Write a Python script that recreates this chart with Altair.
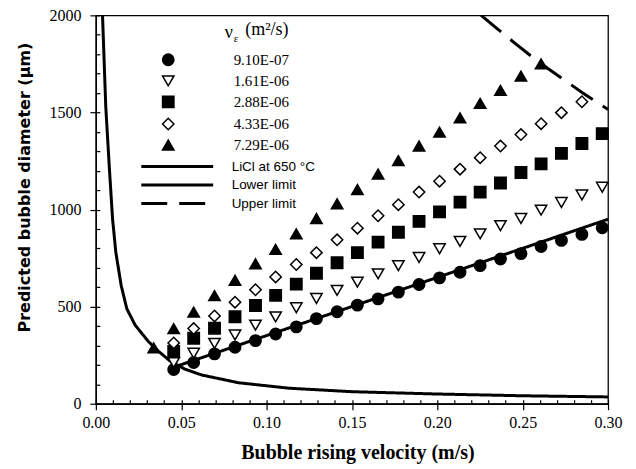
import altair as alt
import pandas as pd

# ---------------- data ----------------
v_pts = [0.0456, 0.0573, 0.0695, 0.0815, 0.0935, 0.1053, 0.1174, 0.1292, 0.1413, 0.1532, 0.1653,
         0.1772, 0.1893, 0.2013, 0.2133, 0.2251, 0.2370, 0.2490, 0.2608, 0.2727, 0.2847, 0.2966]

nu_labels = ["9.10E-07", "1.61E-06", "2.88E-06", "4.33E-06", "7.29E-06"]

d_910 = [176, 212, 257, 291, 325, 359, 396, 438, 474, 508, 540, 575, 614, 648, 677, 711, 745, 773, 810, 841, 872, 906]
d_161 = [212, 260, 311, 354, 405, 447, 494, 542, 584, 626, 669, 711, 753, 798, 836, 875, 917, 954, 997, 1036, 1075, 1115]
d_288 = [269, 337, 389, 448, 506, 558, 616, 672, 726, 778, 832, 883, 939, 988, 1038, 1090, 1137, 1191, 1235, 1289, 1340, 1391]
d_433 = [313, 387, 452, 523, 587, 653, 717, 778, 844, 904, 968, 1025, 1090, 1146, 1208, 1267, 1327, 1386, 1442, 1499, 1555]
d_729 = [387, 472, 557, 636, 721, 795, 875, 954, 1030, 1103, 1183, 1252, 1327, 1399, 1472, 1547, 1614, 1687, 1750]
v_729_extra = [0.0339]
d_729_extra = [288]

line_labels = ["LiCl at 650 \u00b0C", "Lower limit", "Upper limit"]
licl_v = [0.0039, 0.0058, 0.0080, 0.0098, 0.0117, 0.0148, 0.0181, 0.0230, 0.0308, 0.0367, 0.0435,
          0.0522, 0.0620, 0.0836, 0.113, 0.150, 0.200, 0.250, 0.300]
licl_d = [2000, 1530, 1200, 950, 780, 610, 490, 405, 320, 270, 220, 178, 148, 108, 80, 62, 50, 41, 35]
lower_v = [0.0456, 0.300]
lower_d = [188, 950]
upper_v = [0.2257, 0.235, 0.245, 0.255, 0.265, 0.275, 0.285, 0.300]
upper_d = [2000, 1932, 1860, 1790, 1725, 1663, 1602, 1515]

x_major = [0.0, 0.05, 0.10, 0.15, 0.20, 0.25, 0.30]
x_minor = [round(i * 0.01, 2) for i in range(31)]
y_major = [0, 500, 1000, 1500, 2000]
y_minor = list(range(0, 2001, 100))

# ---------------- tables ----------------
series = [d_910, d_161, d_288, d_433, d_729]
rows = []
for lab, ds in zip(nu_labels, series):
    for v, d in zip(v_pts, ds):
        rows.append({"v": v, "d": d, "nu": lab})
for v, d in zip(v_729_extra, d_729_extra):
    rows.append({"v": v, "d": d, "nu": nu_labels[4]})
pts = pd.DataFrame(rows)

lrows = []
for lab, vs, ds in zip(line_labels, [licl_v, lower_v, upper_v], [licl_d, lower_d, upper_d]):
    for v, d in zip(vs, ds):
        lrows.append({"v": v, "d": d, "kind": lab})
lines = pd.DataFrame(lrows)

xscale = alt.Scale(domain=[0, 0.30], nice=False, zero=False)
yscale = alt.Scale(domain=[0, 2000], nice=False)

SERIF = "Liberation Serif"

legend_pts = alt.Legend(
    title="(m\u00b2/s)", orient="none", legendX=65, legendY=6,
    titleFont=SERIF, titleFontSize=18, titleFontWeight="normal", titleColor="black",
    titleAnchor="end", titlePadding=13,
    labelFont=SERIF, labelFontSize=15, labelColor="black", labelOffset=58,
    symbolSize=130, symbolStrokeWidth=1.5, symbolStrokeColor="black", rowPadding=3.1,
    padding=0,
)

points = alt.Chart(pts).mark_point(size=130, strokeWidth=1.5, opacity=1).encode(
    x=alt.X("v:Q", scale=xscale,
            axis=alt.Axis(values=x_major, format=".2f", title="Bubble rising velocity (m/s)",
                          titleFont=SERIF, titleFontSize=20, titleFontWeight="bold",
                          titleX=262, titleY=49, titleBaseline="middle", titleAlign="center",
                          labelFont=SERIF, labelFontSize=16, tickSize=6, labelPadding=5,
                          labelFlush=False, grid=False, orient="bottom")),
    y=alt.Y("d:Q", scale=yscale,
            axis=alt.Axis(values=y_major, format="d", title="Predicted bubble diameter (\u03bcm)",
                          titleFont="DejaVu Sans", titleFontSize=16, titleFontWeight="bold",
                          titleX=-71, titleY=172, titleBaseline="middle", titleAlign="center",
                          titleAngle=270,
                          labelFont=SERIF, labelFontSize=16, tickSize=6, labelPadding=9,
                          grid=False, orient="left")),
    shape=alt.Shape("nu:N", scale=alt.Scale(domain=nu_labels,
                    range=["circle", "triangle-down", "square", "diamond", "triangle-up"]),
                    legend=legend_pts),
    fill=alt.Fill("nu:N", scale=alt.Scale(domain=nu_labels,
                  range=["black", "white", "black", "white", "black"]),
                  legend=legend_pts),
    stroke=alt.Stroke("nu:N", scale=alt.Scale(domain=nu_labels,
                      range=["black", "black", "black", "black", "black"]),
                      legend=legend_pts),
)

curves = alt.Chart(lines).mark_line(strokeWidth=3, color="black", clip=True).encode(
    x=alt.X("v:Q", scale=xscale,
            axis=alt.Axis(values=x_minor, labels=False, domain=False, tickSize=4, offset=-4,
                          title=None, grid=False, orient="bottom")),
    y=alt.Y("d:Q", scale=yscale,
            axis=alt.Axis(values=y_minor, labels=False, domain=False, tickSize=4, offset=-4,
                          title=None, grid=False, orient="left")),
    strokeDash=alt.StrokeDash("kind:N", scale=alt.Scale(domain=line_labels,
                              range=[[1, 0], [1, 0], [26, 12]]),
                              legend=alt.Legend(title=None, orient="none", legendX=74, legendY=144,
                                                symbolType="M-6,0H6", symbolSize=144,
                                                symbolStrokeWidth=3, symbolStrokeColor="black",
                                                labelFont="Liberation Sans", labelFontSize=13.5,
                                                labelColor="black", labelOffset=47, rowPadding=4.5,
                                                padding=0)),
    order=alt.Order("v:Q"),
)

nu_sym = alt.Chart(pd.DataFrame({"t": ["\u03bd"]})).mark_text(
    font=SERIF, fontSize=18, color="black", align="left", baseline="middle"
).encode(text="t:N", x=alt.value(129), y=alt.value(18))

eps = alt.Chart(pd.DataFrame({"t": ["\u03b5"]})).mark_text(
    font=SERIF, fontSize=11, color="black", align="left", baseline="middle"
).encode(text="t:N", x=alt.value(138), y=alt.value(24))

chart = alt.layer(curves, points, nu_sym, eps).resolve_axis(
    x="independent", y="independent"
).properties(
    width=513, height=389,
    autosize=alt.AutoSizeParams(type="none"),
    padding={"left": 88, "top": 7, "right": 20, "bottom": 60},
).configure_view(
    stroke="black", strokeWidth=1.3
).configure_axis(
    domainColor="black", domainWidth=1.3, tickColor="black", tickWidth=1.2,
    labelColor="black", titleColor="black"
)

chart.save("out.html", embed_options={"renderer": "svg", "actions": False})
